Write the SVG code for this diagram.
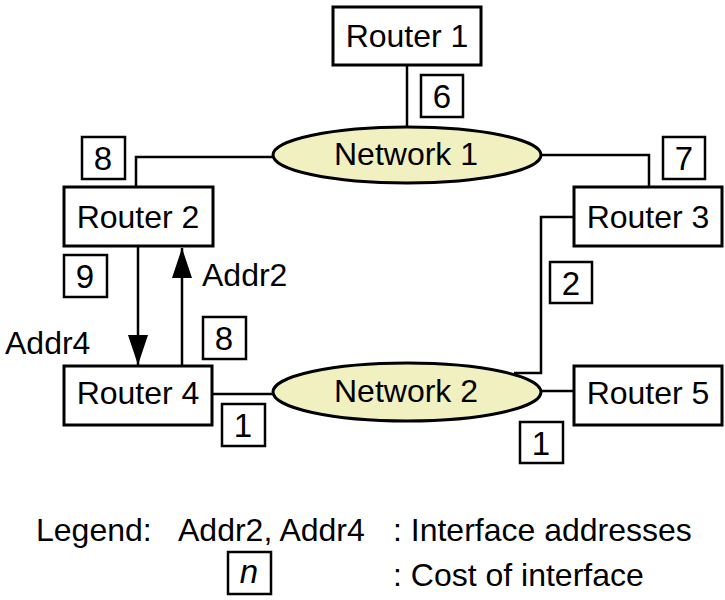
<svg xmlns="http://www.w3.org/2000/svg" width="725" height="600" viewBox="0 0 725 600">
<style>
  text { font-family: "Liberation Sans", Arial, Helvetica, sans-serif; font-size: 32px; fill: #000; }
  .c { text-anchor: middle; }
  .node rect { fill: #fff; stroke: #000; stroke-width: 3; }
  .net ellipse { fill: #f0f0c0; stroke: #000; stroke-width: 3; }
  .cost rect { fill: #fff; stroke: #000; stroke-width: 2.5; }
  .cost text { font-size: 33px; }
  #connectors path, #connectors line { fill: none; stroke: #000; stroke-width: 2.5; }
</style>
<defs>
  <marker id="arr" viewBox="0 0 30 20" refX="30" refY="10" markerUnits="userSpaceOnUse" markerWidth="30" markerHeight="20" orient="auto">
    <path d="M0,0 L30,10 L0,20 Z" fill="#000"/>
  </marker>
</defs>

<g id="connectors">
  <line x1="407" y1="66" x2="407" y2="127"/>
  <path d="M273,157 H136 V187"/>
  <path d="M541,155 H649 V187"/>
  <path d="M574,217 H541 V373 H514"/>
  <line x1="212" y1="394" x2="274" y2="394"/>
  <line x1="540" y1="391" x2="574" y2="391"/>
  <line x1="138" y1="247" x2="138" y2="365" marker-end="url(#arr)"/>
  <line x1="182" y1="366" x2="182" y2="248" marker-end="url(#arr)"/>
</g>

<g id="router1" class="node"><rect x="333" y="7" width="148" height="58"/><text class="c" x="407" y="47">Router 1</text></g>
<g id="router2" class="node"><rect x="64" y="187" width="149" height="59"/><text class="c" x="138" y="228">Router 2</text></g>
<g id="router3" class="node"><rect x="574" y="187" width="148" height="59"/><text class="c" x="648" y="228">Router 3</text></g>
<g id="router4" class="node"><rect x="64" y="366" width="148" height="59"/><text class="c" x="138" y="404">Router 4</text></g>
<g id="router5" class="node"><rect x="574" y="366" width="148" height="59"/><text class="c" x="648" y="404">Router 5</text></g>

<g id="network1" class="net"><ellipse cx="407" cy="155" rx="134" ry="28"/><text class="c" x="406" y="165">Network 1</text></g>
<g id="network2" class="net"><ellipse cx="407" cy="392" rx="134" ry="29"/><text class="c" x="406" y="402">Network 2</text></g>

<g id="cost6" class="cost"><rect x="421" y="75" width="42" height="42"/><text class="c" x="442" y="108">6</text></g>
<g id="cost8a" class="cost"><rect x="82" y="137" width="43" height="42"/><text class="c" x="103" y="170">8</text></g>
<g id="cost7" class="cost"><rect x="663" y="137" width="42" height="42"/><text class="c" x="684" y="170">7</text></g>
<g id="cost9" class="cost"><rect x="64" y="255" width="43" height="42"/><text class="c" x="85" y="288">9</text></g>
<g id="cost2" class="cost"><rect x="550" y="262" width="42" height="41"/><text class="c" x="571" y="295">2</text></g>
<g id="cost8b" class="cost"><rect x="203" y="317" width="43" height="42"/><text class="c" x="224" y="350">8</text></g>
<g id="cost1a" class="cost"><rect x="222" y="404" width="43" height="42"/><text class="c" x="243" y="437">1</text></g>
<g id="cost1b" class="cost"><rect x="520" y="422" width="43" height="41"/><text class="c" x="541" y="455">1</text></g>

<g id="labels">
  <text x="202" y="286">Addr2</text>
  <text x="5" y="354">Addr4</text>
</g>

<g id="legend">
  <text x="36" y="541">Legend:</text>
  <text x="178" y="541">Addr2, Addr4</text>
  <text x="393" y="541">: Interface addresses</text>
  <g class="cost"><rect x="228" y="552" width="43" height="42"/><text class="c" x="249" y="583" font-style="italic">n</text></g>
  <text x="393" y="586">: Cost of interface</text>
</g>
</svg>
